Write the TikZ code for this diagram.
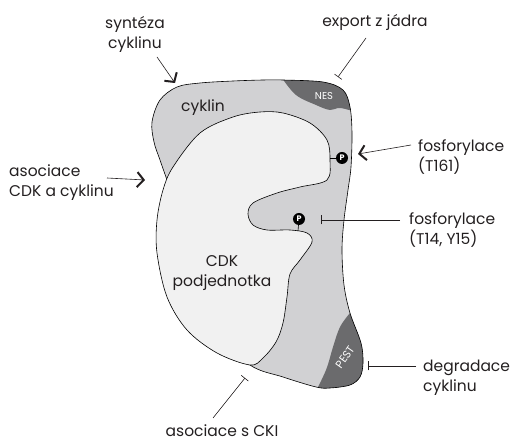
\documentclass[tikz,border=0pt]{standalone}
\usepackage{fontspec}
\setmainfont{Poppins}
\usetikzlibrary{arrows.meta}

\definecolor{cyclingrey}{HTML}{D1D1D3}
\definecolor{cdkgrey}{HTML}{F1F1F1}
\definecolor{motifgrey}{HTML}{6B6B6D}
\definecolor{inkgrey}{HTML}{231F20}

% outlines of the two subunits (image coordinates, y downwards)
\newcommand\cyclinpath{plot[smooth cycle, tension=.55] coordinates {
  (152,122) (160,100) (177,87) (200,83) (233,81) (263,80) (283,80)
  (323,82) (343,90) (350,107) (352,133) (351,167) (348,190) (344,220)
  (342,250) (344,285) (350,313) (361,343) (363,363) (360,377) (350,385)
  (330,388) (316,387) (283,377) (250,365) (215,330) (185,260) (174,200)
  (167,180) (160,160) (154,142)}}
\newcommand\cdkpath{plot[smooth cycle, tension=.55] coordinates {
  (200,133) (233,117) (260,112) (283,113) (310,123) (327,140) (330,160)
  (327,180) (300,187) (277,193) (253,203) (248,214) (253,225) (267,230)
  (290,230) (307,233) (312,242) (300,260) (290,274) (287,297) (283,323)
  (276,342) (263,358) (250,365) (217,353) (187,330) (167,297) (157,253)
  (157,220) (163,190) (173,167)}}

\begin{document}
\begin{tikzpicture}[
  x=1pt, y=-1pt,
  font=\fontsize{15.5}{20}\selectfont,
  lbl/.style={align=center, text=inkgrey, inner sep=0pt},
  lblleft/.style={align=left, anchor=west, text=inkgrey, inner sep=0pt},
  act/.style={-{Straight Barb[length=6.5pt, width=15pt, line width=2pt]},
              line width=.6pt, inkgrey},
  inh/.style={-{Bar[width=9pt]}, line width=.6pt, inkgrey},
  motif/.style={font=\fontsize{10}{11}\selectfont, text=white, inner sep=0pt},
  phos/.style={circle, fill=black, text=white, inner sep=0pt,
               minimum size=12pt, font=\fontsize{8}{8}\selectfont\bfseries},
]
\useasboundingbox (0,0) rectangle (523,443);

% cyclin with its NES and PEST motifs
\fill[cyclingrey] \cyclinpath;
\begin{scope}
  \clip \cyclinpath;
  \fill[motifgrey] (278,60) -- plot[smooth, tension=.6] coordinates
    {(282,78) (296,95) (316,105) (330,110) (340,108) (356,112)}
    -- (375,112) -- (375,60) -- cycle;
  \fill[motifgrey] (356,300) -- plot[smooth, tension=.6] coordinates
    {(350,313) (340,327) (333,347) (326,370) (314,395)}
    -- (380,400) -- (380,300) -- cycle;
\end{scope}
\draw[line width=.6pt] \cyclinpath;

% CDK subunit
\filldraw[fill=cdkgrey, line width=.6pt] \cdkpath;

\node[lbl] (cyclin) at (203,108) {cyklin};
\node[lbl] (cdk) at (222,273) {CDK\\podjednotka};
\node[motif] (nes) at (324,96) {NES};
\node[motif, font=\fontsize{11}{12}\selectfont, rotate=55] (pest) at (345,357) {PEST};

% phosphate groups
\node[phos] (pA) at (342,158) {P};
\coordinate (stemA) at (330,158);
\draw[line width=.6pt] (stemA) -- (pA);
\node[phos] (pB) at (299,219) {P};
\coordinate (stemB) at (298,231);
\draw[line width=.6pt] (pB) -- (stemB);

% labels
\node[lbl] (synth) at (135,34) {syntéza\\cyklinu};
\node[lblleft] (assoc) at (9,183) {asociace\\CDK a cyklinu};
\node[lbl] (export) at (375,22) {export z jádra};
\node[lblleft] (phosA) at (418,157) {fosforylace\\(T161)};
\node[lblleft] (phosB) at (409,230) {fosforylace\\(T14, Y15)};
\node[lblleft] (degr) at (423,378) {degradace\\cyklinu};
\node[lbl] (cki) at (222,431) {asociace s CKI};

% connectors
\coordinate (synthS) at (157,57);
\coordinate (synthE) at (175,83);
\coordinate (assocS) at (107,178);
\coordinate (assocE) at (145,180);
\coordinate (exportS) at (366,38);
\coordinate (exportE) at (338,77);
\coordinate (phosAS) at (411,145);
\coordinate (phosAE) at (358,154);
\coordinate (phosBS) at (400,220);
\coordinate (phosBE) at (321,220);
\coordinate (degrS) at (416,366);
\coordinate (degrE) at (368,366);
\coordinate (ckiS) at (213,418);
\coordinate (ckiE) at (245,378);

\draw[act] (synthS) -- (synthE);
\draw[act] (assocS) -- (assocE);
\draw[act] (phosAS) -- (phosAE);
\draw[inh] (exportS) -- (exportE);
\draw[inh] (phosBS) -- (phosBE);
\draw[inh] (degrS) -- (degrE);
\draw[inh] (ckiS) -- (ckiE);
\end{tikzpicture}
\end{document}
